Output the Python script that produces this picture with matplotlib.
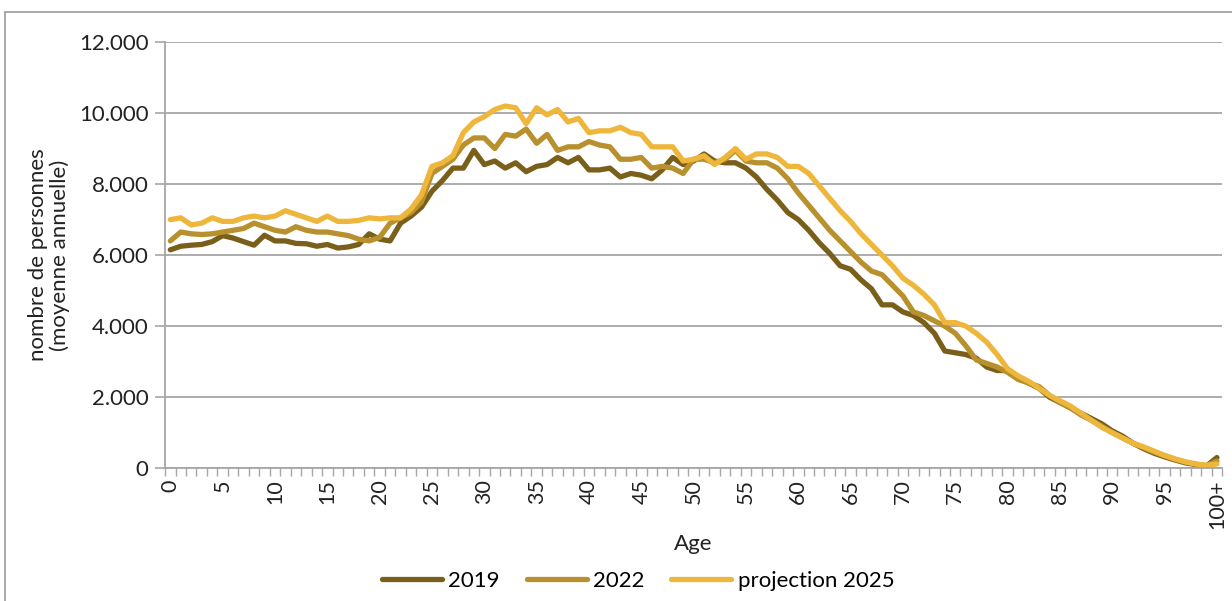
import numpy as np
import matplotlib
matplotlib.use('Agg')
import matplotlib.pyplot as plt
from matplotlib.ticker import FuncFormatter, FixedLocator
from matplotlib.patches import Rectangle

plt.rcParams['font.family'] = ['Lato', 'DejaVu Sans']

# Ages 0..99 plus the "100+" group
ages = list(range(101))
age_labels = [str(a) if a < 100 else '100+' for a in ages]

pop_2019 = [
    6150, 6250, 6280, 6300, 6380, 6550, 6480, 6380, 6280, 6560,
    6400, 6400, 6330, 6320, 6250, 6300, 6200, 6230, 6300, 6600,
    6450, 6400, 6900, 7100, 7350, 7800, 8100, 8450, 8450, 8950,
    8550, 8650, 8450, 8600, 8350, 8500, 8550, 8750, 8600, 8750,
    8400, 8400, 8450, 8200, 8300, 8250, 8150, 8400, 8750, 8550,
    8650, 8850, 8650, 8600, 8600, 8450, 8200, 7850, 7550, 7200,
    7000, 6700, 6350, 6050, 5700, 5600, 5300, 5050, 4600, 4600,
    4400, 4300, 4100, 3800, 3300, 3250, 3200, 3100, 2850, 2750,
    2750, 2550, 2400, 2250, 2000, 1850, 1700, 1550, 1400, 1250,
    1050, 900, 700, 550, 420, 320, 230, 150, 100, 60,
    300,
]

pop_2022 = [
    6400, 6650, 6600, 6580, 6600, 6650, 6700, 6750, 6900, 6800,
    6700, 6650, 6800, 6700, 6650, 6650, 6600, 6550, 6450, 6400,
    6500, 6900, 7050, 7200, 7500, 8300, 8500, 8700, 9100, 9300,
    9300, 9000, 9400, 9350, 9550, 9150, 9400, 8950, 9050, 9050,
    9200, 9100, 9050, 8700, 8700, 8750, 8450, 8500, 8450, 8300,
    8700, 8700, 8600, 8700, 8950, 8650, 8600, 8600, 8450, 8150,
    7750, 7400, 7050, 6700, 6400, 6100, 5800, 5550, 5450, 5150,
    4850, 4400, 4300, 4150, 4000, 3800, 3450, 3050, 2950, 2850,
    2700, 2500, 2400, 2300, 2050, 1850, 1700, 1500, 1350, 1180,
    1000, 850, 700, 580, 450, 350, 250, 170, 110, 70,
    200,
]

pop_2025 = [
    7000, 7050, 6850, 6900, 7050, 6950, 6950, 7050, 7100, 7050,
    7100, 7250, 7150, 7050, 6950, 7100, 6950, 6950, 6980, 7050,
    7020, 7050, 7050, 7300, 7700, 8500, 8600, 8800, 9450, 9750,
    9900, 10100, 10200, 10150, 9700, 10150, 9950, 10100, 9750, 9850,
    9450, 9500, 9500, 9600, 9450, 9400, 9050, 9050, 9050, 8650,
    8700, 8800, 8550, 8750, 9000, 8700, 8850, 8850, 8750, 8500,
    8500, 8300, 7950, 7600, 7250, 6950, 6600, 6300, 6000, 5700,
    5350, 5150, 4900, 4600, 4100, 4100, 4000, 3800, 3550, 3200,
    2800, 2600, 2450, 2250, 2050, 1900, 1750, 1550, 1350, 1150,
    1000, 850, 700, 600, 480, 360, 260, 180, 120, 80,
    120,
]

series = [
    ('2019', pop_2019, '#7a5f1a'),
    ('2022', pop_2022, '#b8912e'),
    ('projection 2025', pop_2025, '#eeb73c'),
]

fig = plt.figure(figsize=(12.32, 6.01), dpi=100)
ax = fig.add_axes([0.134, 0.221, 0.858, 0.709])

for name, vals, col in series:
    ax.plot(ages, vals, color=col, linewidth=3.8, label=name,
            solid_joinstyle='round', solid_capstyle='round')

ax.set_xlim(-0.5, 100.5)
ax.set_ylim(0, 12000)
ax.set_yticks(range(0, 12001, 2000))
ax.yaxis.set_major_formatter(FuncFormatter(lambda v, p: f'{int(v):,}'.replace(',', '.')))
ax.grid(axis='y', color='#a6a6a6', linewidth=1.3)
ax.set_axisbelow(True)

# category axis: labels every 5, tick marks between categories
major = [a for a in ages if a % 5 == 0]
ax.xaxis.set_major_locator(FixedLocator(major))
ax.set_xticklabels([age_labels[a] for a in major], rotation=90)
ax.xaxis.set_minor_locator(FixedLocator(np.arange(-0.5, 101, 1.0)))
ax.tick_params(axis='x', which='major', length=0, pad=8, labelsize=15.5, colors='#222222')
ax.tick_params(axis='x', which='minor', length=6, width=1, color='#a6a6a6', direction='out')
ax.tick_params(axis='y', length=7, width=1.2, color='#a6a6a6', labelsize=16,
               labelcolor='#222222', pad=5)

for s in ['top', 'right']:
    ax.spines[s].set_visible(False)
for s in ['left', 'bottom']:
    ax.spines[s].set_color('#a6a6a6')
    ax.spines[s].set_linewidth(1.3)

ax.set_xlabel('Age', fontsize=16, color='#222222', labelpad=4)
ax.set_ylabel('nombre de personnes\n(moyenne annuelle)', fontsize=16,
              color='#222222', labelpad=6, linespacing=1.1)

fig.legend(loc='center', bbox_to_anchor=(0.518, 0.033), ncol=3, frameon=False,
           fontsize=16, handlelength=2.7, columnspacing=1.2, handletextpad=0.3)

# outer frame of the chart
fig.patches.append(Rectangle((0.004, -0.05), 1.2, 1.03, transform=fig.transFigure,
                             fill=False, edgecolor='#999999', linewidth=1.2))

fig.savefig('out.png', dpi=100)
